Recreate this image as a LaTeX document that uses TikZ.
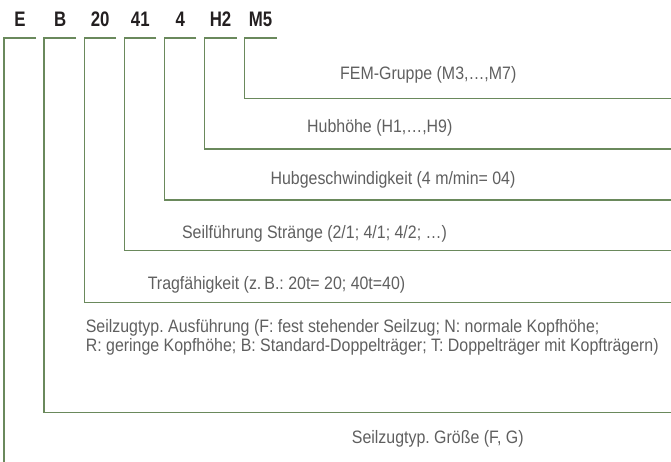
\documentclass[tikz,border=0pt]{standalone}
\usepackage{fontspec}
\setmainfont{Liberation Sans}[FakeStretch=0.885]
\newfontfamily\codefont{Liberation Sans}[FakeStretch=0.8]
\usetikzlibrary{calc}

\definecolor{bracketgreen}{RGB}{106,137,92}
\definecolor{textgray}{RGB}{95,95,95}
\definecolor{codeblack}{RGB}{35,31,32}

\tikzset{
  bracket/.style={draw=bracketgreen, line width=1.3pt, line join=miter},
  code/.style={inner sep=0pt, anchor=base, text=codeblack, font=\codefont\bfseries\fontsize{21}{24}\selectfont},
  desc/.style={inner sep=0pt, anchor=base west, text=textgray, font=\fontsize{18}{19}\selectfont}
}

\begin{document}
\frenchspacing
\begin{tikzpicture}[x=1pt, y=-1pt]

\useasboundingbox (0,0) rectangle (671,461);
\clip (0,0) rectangle (671,461);

%Coordinates and code letters
\foreach \lab/\name/\yend [count=\i from 0] in {E/e/480, B/b/412.7, 20/t/302.3, 41/s/250.7, 4/v/200, H2/hh/149, M5/m/98.3}
{
  \coordinate (\name) at ({4+40.1*\i},38);
  \node[code] (\name-lab) at ({20+40.1*\i},26.5) {\lab};
  \coordinate (\name-end) at (671,\yend);
  % bracket
  \draw[bracket] ($(\name)+(32,0)$) -- (\name) |- (\name-end);
}

% Nodes
\node[desc] (fem) at (340,79) {FEM-Gruppe (M3,…,M7)};
\node[desc] (hub) at (307,132) {Hubhöhe (H1,…,H9)};
\node[desc] (speed) at (270.4,184.5) {Hubgeschwindigkeit (4 m/min= 04)};
\node[desc] (rope) at (181.9,238) {Seilführung Stränge (2/1; 4/1; 4/2; …)};
\node[desc] (load) at (147.6,289) {Tragfähigkeit (z.\,B.: 20t= 20; 40t=40)};
\node[desc, anchor=west, align=left] (type) at (85.6,337) {Seilzugtyp. Ausführung (F: fest stehender Seilzug; N: normale Kopfhöhe;\\R: geringe Kopfhöhe; B: Standard-Doppelträger; T: Doppelträger mit Kopfträgern)};
\node[desc] (size) at (351.7,443) {Seilzugtyp. Größe (F, G)};

\end{tikzpicture}
\end{document}
